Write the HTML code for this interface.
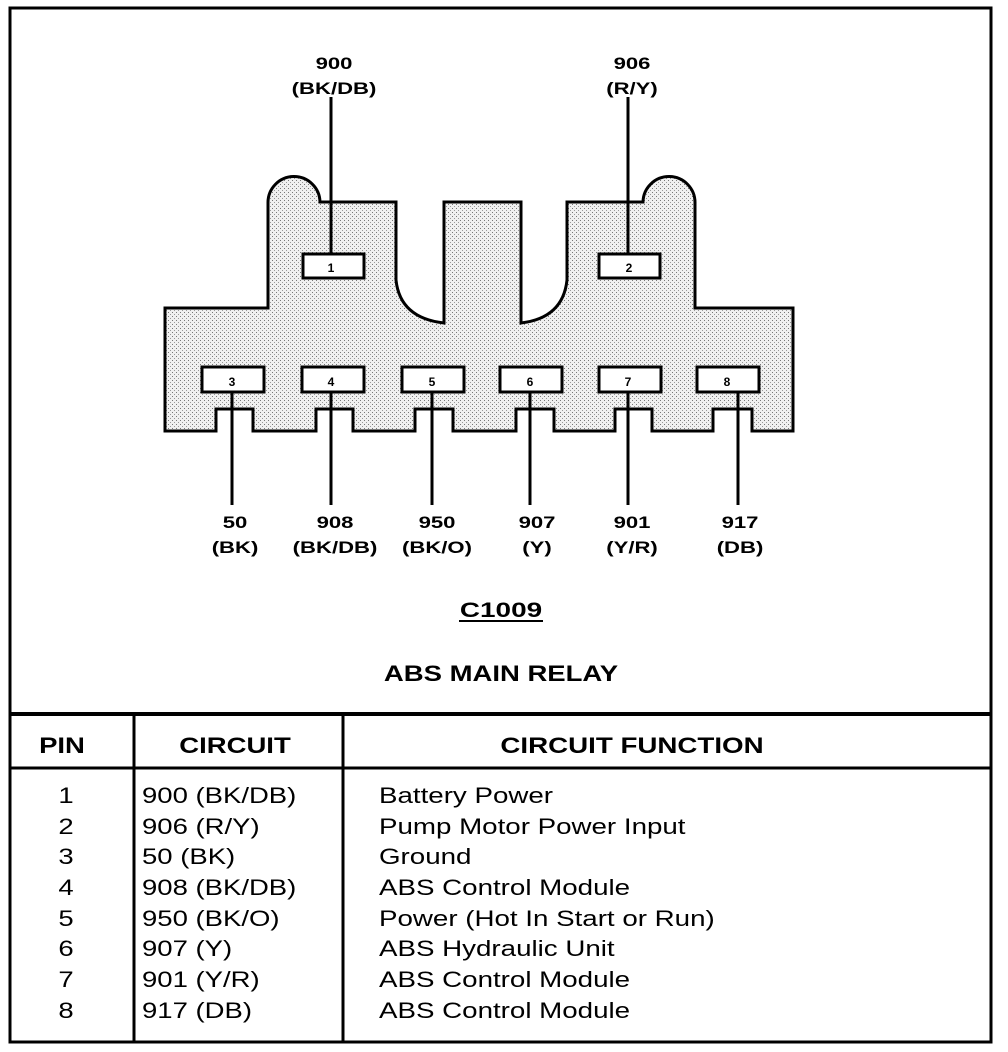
<!DOCTYPE html>
<html><head><meta charset="utf-8"><style>
body{margin:0;background:#fff}
svg{display:block}
text{font-family:"Liberation Sans",Arial,sans-serif;fill:#000}
.b{font-weight:bold;font-size:17px}
.p{font-weight:bold;font-size:12px}
.t{font-size:22px}
.h{font-size:22px;font-weight:bold}
</style></head><body>
<svg width="1008" height="1052" viewBox="0 0 1008 1052" xmlns="http://www.w3.org/2000/svg">
<defs>
<pattern id="dots" width="4" height="4" patternUnits="userSpaceOnUse">
<rect width="4" height="4" fill="#f0f0f0"/>
<rect x="0" y="0" width="1" height="1" fill="#777"/>
<rect x="2" y="2" width="1" height="1" fill="#999"/>
</pattern>
</defs>
<rect x="10" y="8" width="981" height="1034" fill="none" stroke="#000" stroke-width="3"/>
<path d="M165,308 L268,308 L268,203 A26,26 0 0 1 320,202 L396,202 L396,280 Q400,318 444,323 L444,202 L521,202 L521,323 Q563,318 567,280 L567,202 L643,202 A26,26 0 0 1 695,203 L695,308 L793,308 L793,431 L752,431 L752,409 L713,409 L713,431 L652,431 L652,409 L615,409 L615,431 L554,431 L554,409 L516,409 L516,431 L453,431 L453,409 L415,409 L415,431 L353,431 L353,409 L316,409 L316,431 L253,431 L253,409 L216,409 L216,431 L165,431 Z" fill="url(#dots)" stroke="#000" stroke-width="3"/>
<g fill="#fff" stroke="#000" stroke-width="3">
<rect x="303" y="254" width="61" height="24"/>
<rect x="599" y="254" width="61" height="24"/>
<rect x="202" y="367" width="62" height="25"/>
<rect x="302" y="367" width="62" height="25"/>
<rect x="402" y="367" width="62" height="25"/>
<rect x="500" y="367" width="62" height="25"/>
<rect x="599" y="367" width="62" height="25"/>
<rect x="697" y="367" width="62" height="25"/>
</g>
<g class="p" text-anchor="middle">
<text x="331" y="272">1</text><text x="629" y="272">2</text>
<text x="232" y="386">3</text><text x="331" y="386">4</text><text x="432" y="386">5</text>
<text x="530" y="386">6</text><text x="628" y="386">7</text><text x="727" y="386">8</text>
</g>
<g stroke="#000" stroke-width="3">
<line x1="331" y1="97" x2="331" y2="254"/>
<line x1="628" y1="97" x2="628" y2="254"/>
<line x1="232" y1="392" x2="232" y2="505"/>
<line x1="331" y1="392" x2="331" y2="505"/>
<line x1="432" y1="392" x2="432" y2="505"/>
<line x1="530" y1="392" x2="530" y2="505"/>
<line x1="628" y1="392" x2="628" y2="505"/>
<line x1="738" y1="392" x2="738" y2="505"/>
</g>
<g class="b" text-anchor="middle">
<text transform="translate(334 69) scale(1.3 1)">900</text><text transform="translate(334 94) scale(1.3 1)">(BK/DB)</text>
<text transform="translate(632 69) scale(1.3 1)">906</text><text transform="translate(632 94) scale(1.3 1)">(R/Y)</text>
<text transform="translate(235 528) scale(1.3 1)">50</text><text transform="translate(235 553) scale(1.3 1)">(BK)</text>
<text transform="translate(335 528) scale(1.3 1)">908</text><text transform="translate(335 553) scale(1.3 1)">(BK/DB)</text>
<text transform="translate(437 528) scale(1.3 1)">950</text><text transform="translate(437 553) scale(1.3 1)">(BK/O)</text>
<text transform="translate(537 528) scale(1.3 1)">907</text><text transform="translate(537 553) scale(1.3 1)">(Y)</text>
<text transform="translate(632 528) scale(1.3 1)">901</text><text transform="translate(632 553) scale(1.3 1)">(Y/R)</text>
<text transform="translate(740 528) scale(1.3 1)">917</text><text transform="translate(740 553) scale(1.3 1)">(DB)</text>
</g>
<text transform="translate(501 617) scale(1.33 1)" text-anchor="middle" style="font-weight:bold;font-size:21px">C1009</text>
<line x1="459" y1="621" x2="543" y2="621" stroke="#000" stroke-width="2"/>
<text transform="translate(501 681) scale(1.25 1)" text-anchor="middle" style="font-weight:bold;font-size:22px">ABS MAIN RELAY</text>
<line x1="10" y1="714" x2="991" y2="714" stroke="#000" stroke-width="4"/>
<line x1="10" y1="768" x2="991" y2="768" stroke="#000" stroke-width="3"/>
<line x1="134" y1="714" x2="134" y2="1042" stroke="#000" stroke-width="3"/>
<line x1="343" y1="714" x2="343" y2="1042" stroke="#000" stroke-width="3"/>
<g class="h" text-anchor="middle">
<text transform="translate(62 753) scale(1.25 1)">PIN</text>
<text transform="translate(235 753) scale(1.25 1)">CIRCUIT</text>
<text transform="translate(632 753) scale(1.26 1)">CIRCUIT FUNCTION</text>
</g>
<g class="t" text-anchor="middle">
<text transform="translate(66 803) scale(1.25 1)">1</text>
<text transform="translate(66 834) scale(1.25 1)">2</text>
<text transform="translate(66 864) scale(1.25 1)">3</text>
<text transform="translate(66 895) scale(1.25 1)">4</text>
<text transform="translate(66 926) scale(1.25 1)">5</text>
<text transform="translate(66 956) scale(1.25 1)">6</text>
<text transform="translate(66 987) scale(1.25 1)">7</text>
<text transform="translate(66 1018) scale(1.25 1)">8</text>
</g>
<g class="t">
<text transform="translate(142 803) scale(1.25 1)">900 (BK/DB)</text>
<text transform="translate(142 834) scale(1.25 1)">906 (R/Y)</text>
<text transform="translate(142 864) scale(1.25 1)">50 (BK)</text>
<text transform="translate(142 895) scale(1.25 1)">908 (BK/DB)</text>
<text transform="translate(142 926) scale(1.25 1)">950 (BK/O)</text>
<text transform="translate(142 956) scale(1.25 1)">907 (Y)</text>
<text transform="translate(142 987) scale(1.25 1)">901 (Y/R)</text>
<text transform="translate(142 1018) scale(1.25 1)">917 (DB)</text>
<text transform="translate(379 803) scale(1.26 1)">Battery Power</text>
<text transform="translate(379 834) scale(1.26 1)">Pump Motor Power Input</text>
<text transform="translate(379 864) scale(1.26 1)">Ground</text>
<text transform="translate(379 895) scale(1.26 1)">ABS Control Module</text>
<text transform="translate(379 926) scale(1.26 1)">Power (Hot In Start or Run)</text>
<text transform="translate(379 956) scale(1.26 1)">ABS Hydraulic Unit</text>
<text transform="translate(379 987) scale(1.26 1)">ABS Control Module</text>
<text transform="translate(379 1018) scale(1.26 1)">ABS Control Module</text>
</g>
</svg>
</body></html>
